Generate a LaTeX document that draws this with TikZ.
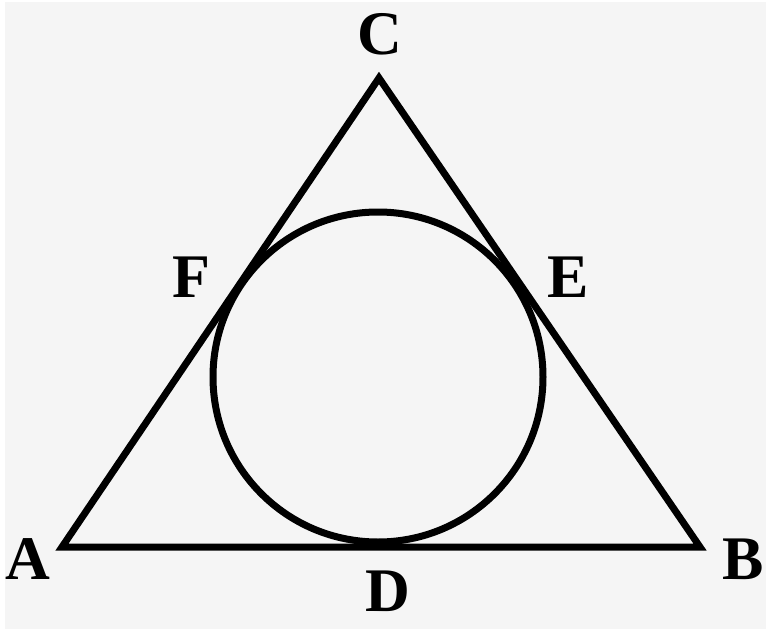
\documentclass[tikz,border=0pt]{standalone}
\usepackage{fontspec}
\setmainfont{Liberation Serif}
\begin{document}
\begin{tikzpicture}[x=1pt,y=-1pt,
  edge/.style={line width=7pt,line join=miter,black},
  lbl/.style={font=\fontsize{62}{62}\selectfont\bfseries,inner sep=0pt,anchor=center}]
\useasboundingbox (0,0) rectangle (766,629);
\fill[white] (0,0) rectangle (766,629);
\fill[gray!8] (5,2) rectangle (766,629);
\coordinate (A) at (62,547);
\coordinate (B) at (700,547);
\coordinate (C) at (379,78);
\coordinate (O) at (378,377);
\draw[edge] (A) -- (B) -- (C) -- cycle;
\draw[edge] (O) circle[radius=165];
\node[lbl] (lC) at (380,34) {C};
\node[lbl] (lF) at (191,277) {F};
\node[lbl] (lE) at (568,277) {E};
\node[lbl] (lA) at (28,559) {A};
\node[lbl] (lB) at (743,559) {B};
\node[lbl] (lD) at (388,591) {D};
\end{tikzpicture}
\end{document}
